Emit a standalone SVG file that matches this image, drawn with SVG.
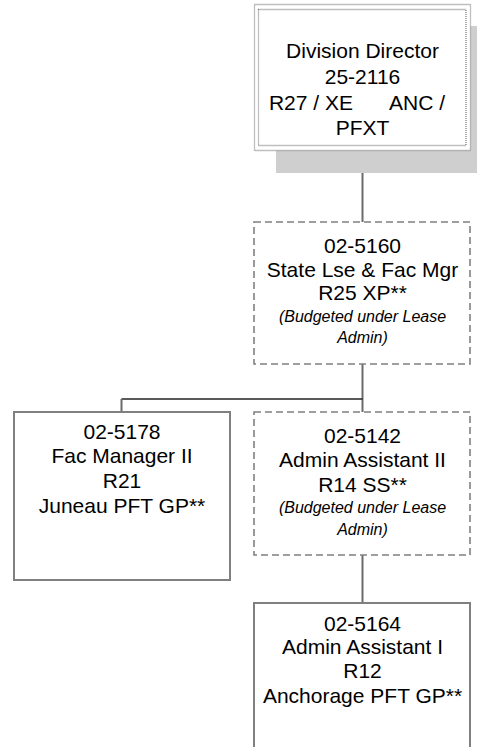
<svg xmlns="http://www.w3.org/2000/svg" width="477" height="747" viewBox="0 0 477 747">
<style>
text{font-family:"Liberation Sans",Arial,sans-serif;fill:#000;text-anchor:middle}
.t{font-size:21px}
.i{font-size:16px;font-style:italic}
.solid{fill:#fff;stroke:#808080;stroke-width:2}
.dash{fill:#fff;stroke:#808080;stroke-width:1.6;stroke-dasharray:7 4}
.dot{fill:none;stroke:#808080;stroke-width:1.3;stroke-dasharray:1 1}
.v{stroke:#6a6a6a;stroke-width:2;fill:none}
.h{stroke:#222;stroke-width:1.3;fill:none}
</style>
<g id="connectors">
<line class="v" x1="362.5" y1="151" x2="362.5" y2="222"/>
<line class="v" x1="362.5" y1="364" x2="362.5" y2="412"/>
<line class="h" x1="121.5" y1="399" x2="362.5" y2="399"/>
<line class="v" x1="121.5" y1="399" x2="121.5" y2="412"/>
<line class="v" x1="362.5" y1="555" x2="362.5" y2="603"/>
</g>
<g id="director">
<rect x="276" y="26" width="217" height="147" fill="#cfcfcf"/>
<rect x="254.5" y="4.5" width="216" height="146" fill="#fff"/>
<rect class="dot" x="254.5" y="4.5" width="216" height="146"/>
<rect class="dot" x="258.5" y="9.5" width="207.5" height="136"/>
<text class="t" x="362.5" y="58">Division Director</text>
<text class="t" x="362.5" y="84">25-2116</text>
<text class="t" y="110"><tspan x="353" y="110" style="text-anchor:end">R27 / XE</tspan><tspan x="389" y="110" style="text-anchor:start">ANC /</tspan></text>
<text class="t" x="362.5" y="135">PFXT</text>
</g>
<g id="n5160">
<rect class="dash" x="254" y="222" width="216" height="142"/>
<text class="t" x="362.5" y="253">02-5160</text>
<text class="t" x="362.5" y="277">State Lse &amp; Fac Mgr</text>
<text class="t" x="362.5" y="300">R25 XP**</text>
<text class="i" x="362.5" y="322">(Budgeted under Lease</text>
<text class="i" x="362.5" y="343">Admin)</text>
</g>
<g id="n5178">
<rect class="solid" x="14" y="412" width="216" height="168"/>
<text class="t" x="122" y="439">02-5178</text>
<text class="t" x="122" y="463">Fac Manager II</text>
<text class="t" x="122" y="488">R21</text>
<text class="t" x="122" y="513">Juneau PFT GP**</text>
</g>
<g id="n5142">
<rect class="dash" x="254" y="412" width="216" height="143"/>
<text class="t" x="362.5" y="443">02-5142</text>
<text class="t" x="362.5" y="467">Admin Assistant II</text>
<text class="t" x="362.5" y="492">R14 SS**</text>
<text class="i" x="362.5" y="513">(Budgeted under Lease</text>
<text class="i" x="362.5" y="535">Admin)</text>
</g>
<g id="n5164">
<rect class="solid" x="254" y="603" width="216" height="170"/>
<text class="t" x="362.5" y="631">02-5164</text>
<text class="t" x="362.5" y="654">Admin Assistant I</text>
<text class="t" x="362.5" y="678">R12</text>
<text class="t" x="362.5" y="703">Anchorage PFT GP**</text>
</g>
</svg>
